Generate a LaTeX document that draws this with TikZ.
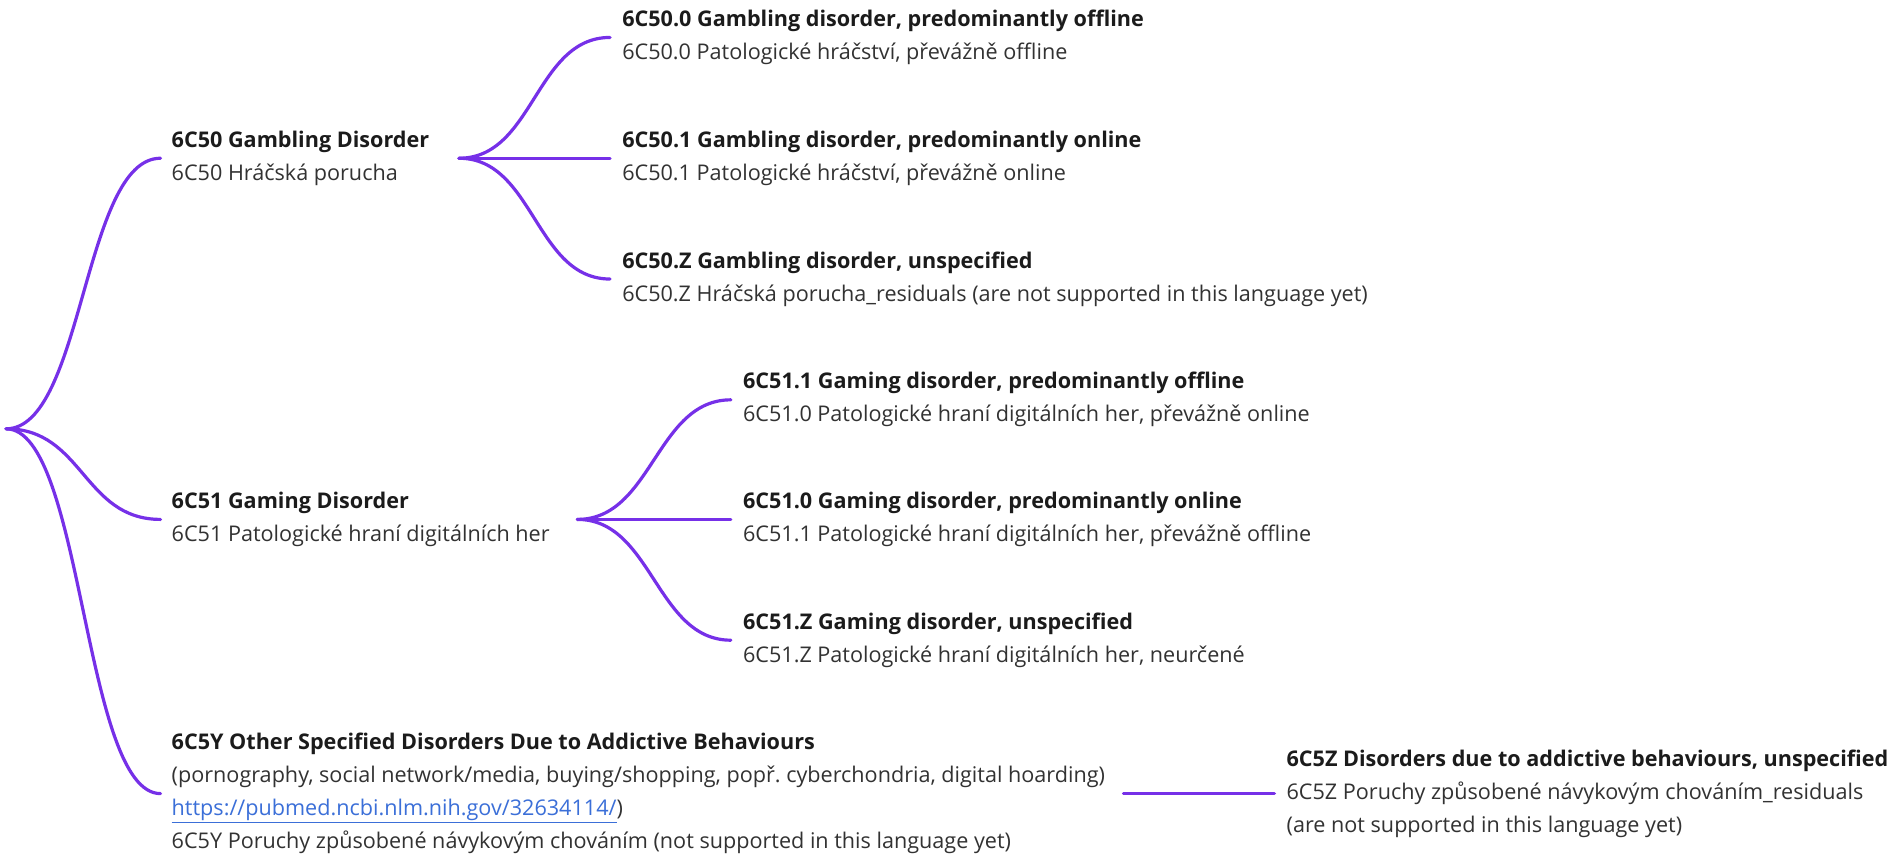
\documentclass[tikz,border=0pt]{standalone}
\usepackage{fontspec}
\setmainfont{Open Sans}
\frenchspacing
\definecolor{branch}{RGB}{118,48,232}
\definecolor{titletext}{RGB}{27,27,27}
\definecolor{subtext}{RGB}{50,50,50}
\definecolor{linkblue}{RGB}{59,111,216}
\newcommand{\ttl}[1]{{\bfseries\color{titletext}#1}}
\tikzset{
  item/.style={anchor=west, align=left, inner sep=0pt, text=subtext,
    font=\fontsize{21.6}{33}\selectfont},
  branchline/.style={draw=branch, line width=3.2pt, line cap=round}
}
\begin{document}
\begin{tikzpicture}[x=1.2079pt,y=-1.2079pt]
\useasboundingbox[fill=white] (0,0) rectangle (1568,707.8);

\coordinate (root) at (5,355);

% level 1
\node[item] (g50) at (142,131) {\ttl{6C50 Gambling Disorder}\\6C50 Hráčská porucha};
\node[item] (g51) at (142,430) {\ttl{6C51 Gaming Disorder}\\6C51 Patologické hraní digitálních her};
\node[item] (g5Y) at (142,657) {\ttl{6C5Y Other Specified Disorders Due to Addictive Behaviours}\\
(pornography, social network/media, buying/shopping, popř. cyberchondria, digital hoarding)\\
{\color{linkblue}\underline{https://pubmed.ncbi.nlm.nih.gov/32634114/}})\\
6C5Y Poruchy způsobené návykovým chováním (not supported in this language yet)};

% level 2 of 6C50
\node[item] (g500) at (515,31) {\ttl{6C50.0 Gambling disorder, predominantly offline}\\6C50.0 Patologické hráčství, převážně offline};
\node[item] (g501) at (515,131) {\ttl{6C50.1 Gambling disorder, predominantly online}\\6C50.1 Patologické hráčství, převážně online};
\node[item] (g50Z) at (515,231) {\ttl{6C50.Z Gambling disorder, unspecified}\\6C50.Z Hráčská porucha\_residuals (are not supported in this language yet)};

% level 2 of 6C51
\node[item] (g511) at (615,331) {\ttl{6C51.1 Gaming disorder, predominantly offline}\\6C51.0 Patologické hraní digitálních her, převážně online};
\node[item] (g510) at (615,430) {\ttl{6C51.0 Gaming disorder, predominantly online}\\6C51.1 Patologické hraní digitálních her, převážně offline};
\node[item] (g51Z) at (615,530) {\ttl{6C51.Z Gaming disorder, unspecified}\\6C51.Z Patologické hraní digitálních her, neurčené};

% sibling of 6C5Y
\node[item] (g5Z) at (1065,657) {\ttl{6C5Z Disorders due to addictive behaviours, unspecified}\\6C5Z Poruchy způsobené návykovým chováním\_residuals\\(are not supported in this language yet)};

% fork points
\coordinate (f50) at (380,131);
\coordinate (f51) at (478,430);
\coordinate (f5Y) at (930,657);

% connectors
\draw[branchline] (root) .. controls +(64,0) and +(-64,0) .. ([xshift=-11pt]g50.west);
\draw[branchline] (root) .. controls +(64,0) and +(-64,0) .. ([xshift=-11pt]g51.west);
\draw[branchline] (root) .. controls +(64,0) and +(-64,0) .. ([xshift=-11pt]g5Y.west);

\draw[branchline] (f50) .. controls +(62,0) and +(-62,0) .. ([xshift=-12pt]g500.west);
\draw[branchline] (f50) -- ([xshift=-12pt]g501.west);
\draw[branchline] (f50) .. controls +(62,0) and +(-62,0) .. ([xshift=-12pt]g50Z.west);

\draw[branchline] (f51) .. controls +(62,0) and +(-62,0) .. ([xshift=-12pt]g511.west);
\draw[branchline] (f51) -- ([xshift=-12pt]g510.west);
\draw[branchline] (f51) .. controls +(62,0) and +(-62,0) .. ([xshift=-12pt]g51Z.west);

\draw[branchline] (f5Y) -- ([xshift=-12pt]g5Z.west);
\end{tikzpicture}
\end{document}
